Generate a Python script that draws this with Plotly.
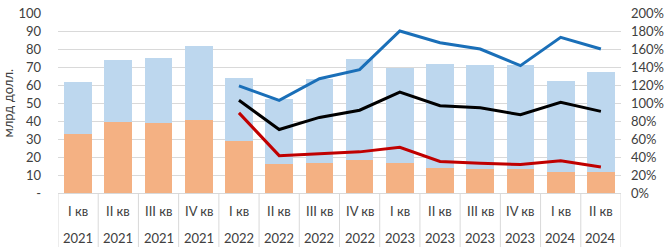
import plotly.graph_objects as go

quarters = ["I кв", "II кв", "III кв", "IV кв", "I кв", "II кв", "III кв", "IV кв",
            "I кв", "II кв", "III кв", "IV кв", "I кв", "II кв"]
years = ["2021", "2021", "2021", "2021", "2022", "2022", "2022", "2022",
         "2023", "2023", "2023", "2023", "2024", "2024"]
orange_vals = [33.0, 39.4, 38.7, 40.4, 29.1, 16.0, 16.7, 18.6, 16.7, 14.0, 13.1, 13.1, 11.7, 11.7]
total_vals = [61.5, 74.0, 74.8, 81.4, 64.0, 52.0, 63.3, 74.3, 69.7, 71.6, 71.1, 71.1, 62.2, 67.2]
blue_vals = [t - o for t, o in zip(total_vals, orange_vals)]

line_start = 4
line_blue = [119, 103, 127, 137, 180, 167, 160, 141.5, 173, 160]
line_black = [103, 70.5, 84, 92, 112, 97, 94.7, 87, 100.7, 90.7]
line_red = [89, 41.5, 43.6, 45.7, 50.7, 35, 33, 31.6, 35.8, 29]

left_ticks = list(range(0, 101, 10))
left_ticktext = ["-"] + [str(v) for v in left_ticks[1:]]
right_ticks = list(range(0, 201, 20))
right_ticktext = [f"{v}%" for v in right_ticks]

n = len(quarters)
xs = list(range(n))
xl = xs[line_start:]

font_family = "Lato, 'Open Sans', sans-serif"
txt_color = "#404040"

fig = go.Figure()
fig.add_trace(go.Bar(x=xs, y=orange_vals, marker_color="#F4B183", marker_line_width=0, showlegend=False))
fig.add_trace(go.Bar(x=xs, y=blue_vals, marker_color="#BDD7EE", marker_line_width=0, showlegend=False))
fig.add_trace(go.Scatter(x=xl, y=line_blue, yaxis="y2", mode="lines",
                         line=dict(color="#1A6FB8", width=3), showlegend=False))
fig.add_trace(go.Scatter(x=xl, y=line_black, yaxis="y2", mode="lines",
                         line=dict(color="#000000", width=3), showlegend=False))
fig.add_trace(go.Scatter(x=xl, y=line_red, yaxis="y2", mode="lines",
                         line=dict(color="#C00000", width=3), showlegend=False))

shapes = []
for i in range(n + 1):
    shapes.append(dict(type="line", xref="x", yref="paper", x0=i - 0.5, x1=i - 0.5,
                       y0=0, y1=-0.3, line=dict(color="#D9D9D9", width=1)))

annotations = []
for i in range(n):
    annotations.append(dict(x=i, y=-0.101, xref="x", yref="paper", text=quarters[i],
                            showarrow=False, yanchor="middle", xanchor="center",
                            font=dict(size=13, color=txt_color, family=font_family)))
    annotations.append(dict(x=i, y=-0.25, xref="x", yref="paper", text=years[i],
                            showarrow=False, yanchor="middle", xanchor="center",
                            font=dict(size=13, color=txt_color, family=font_family)))
annotations.append(dict(x=-0.088, y=0.5, xref="paper", yref="paper", text="млрд долл.",
                        showarrow=False, textangle=-90, xanchor="center", yanchor="middle",
                        font=dict(size=13, color=txt_color, family=font_family)))

fig.update_layout(
    width=669, height=249,
    margin=dict(l=58, r=46, t=5, b=56),
    barmode="stack", bargap=0.31,
    plot_bgcolor="white", paper_bgcolor="white",
    font=dict(family=font_family, size=13, color=txt_color),
    xaxis=dict(range=[-0.5, n - 0.5], showticklabels=False, showgrid=False,
               zeroline=False, showline=True, linecolor="#D9D9D9", linewidth=1),
    yaxis=dict(range=[0, 100], tickvals=left_ticks, ticktext=left_ticktext,
               showgrid=True, gridcolor="#D9D9D9", gridwidth=1, zeroline=False,
               ticklabelstandoff=16, ticklabeloverflow="allow",
               tickfont=dict(size=13, color=txt_color)),
    yaxis2=dict(range=[0, 200], tickvals=right_ticks, ticktext=right_ticktext,
                overlaying="y", side="right", showgrid=False, zeroline=False,
                ticklabelstandoff=9, ticklabeloverflow="allow",
                tickfont=dict(size=13, color=txt_color)),
    shapes=shapes, annotations=annotations,
)

fig.write_html("out.html", config={"displayModeBar": False},
               post_script="document.body.style.margin='0';document.body.style.overflow='hidden';")
